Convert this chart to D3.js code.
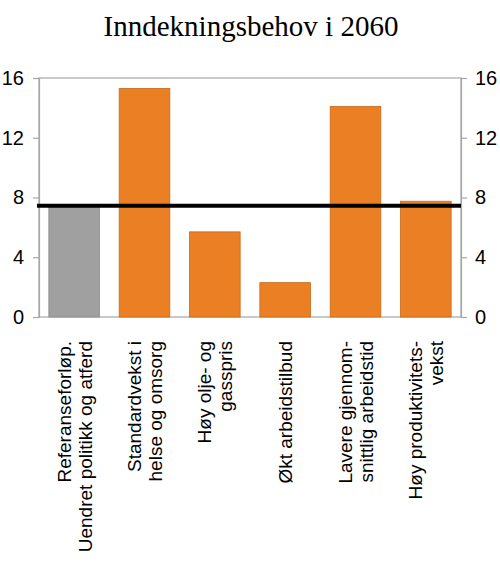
<!DOCTYPE html>
<html>
<head>
<meta charset="utf-8">
<script src="https://cdn.jsdelivr.net/npm/d3@7"></script>
<style>
  body { margin: 0; background: #fff; }
  svg text { font-family: "Liberation Sans", Arial, sans-serif; fill: #000; }
</style>
</head>
<body>
<div id="chart"></div>
<script>
// data
const categories = ['ref', 'helse', 'olje', 'arbeid', 'arbeidstid', 'produktivitet'];
const labelLines = [
    ['Referanseforløp.', 'Uendret politikk og atferd'],
    ['Standardvekst i', 'helse og omsorg'],
    ['Høy olje- og', 'gasspris'],
    ['Økt arbeidstilbud'],
    ['Lavere gjennom-', 'snittlig arbeidstid'],
    ['Høy produktivitets-', 'vekst']
];
const values = [7.35, 15.3, 5.7, 2.3, 14.1, 7.75];
const refLevel = 7.45;
const yTicks = [0, 4, 8, 12, 16];

const width = 500, height = 568;
const plotLeft = 39, plotRight = 461, plotTop = 78, plotBottom = 317;

const svg = d3.select('#chart').append('svg')
    .attr('width', width)
    .attr('height', height);

const x = d3.scaleBand()
    .domain(categories)
    .range([plotLeft, plotRight])
    .paddingInner(0.28)
    .paddingOuter(0.14);

const y = d3.scaleLinear()
    .domain([0, 16])
    .range([plotBottom, plotTop]);

// title
svg.append('text')
    .attr('x', 251)
    .attr('y', 36)
    .attr('text-anchor', 'middle')
    .style('font-family', '"Liberation Serif", "Times New Roman", serif')
    .style('font-size', '29px')
    .text('Inndekningsbehov i 2060');

// frame
svg.append('rect')
    .attr('x', plotLeft).attr('y', plotTop)
    .attr('width', plotRight - plotLeft).attr('height', plotBottom - plotTop)
    .attr('fill', 'none')
    .attr('stroke', '#a6a6a6')
    .attr('stroke-width', 1.2);

// axes
const yLeft = svg.append('g')
    .attr('transform', `translate(${plotLeft},0)`)
    .call(d3.axisLeft(y).tickValues(yTicks).tickSize(6).tickPadding(9));
const yRight = svg.append('g')
    .attr('transform', `translate(${plotRight},0)`)
    .call(d3.axisRight(y).tickValues(yTicks).tickSize(6).tickPadding(8));

[yLeft, yRight].forEach(g => {
    g.select('.domain').attr('stroke', '#a6a6a6').attr('stroke-width', 1.2);
    g.selectAll('.tick line').attr('stroke', '#a6a6a6').attr('stroke-width', 1.2);
    g.selectAll('.tick text')
        .style('font-family', '"Liberation Sans", Arial, sans-serif')
        .style('font-size', '20px')
        .attr('fill', '#000');
});

// bars
svg.append('g')
    .selectAll('rect')
    .data(values)
    .enter().append('rect')
    .attr('x', (d, i) => x(categories[i]))
    .attr('y', d => y(d))
    .attr('width', x.bandwidth())
    .attr('height', d => y(0) - y(d))
    .attr('fill', (d, i) => i === 0 ? '#a0a0a0' : '#eb7f23')
    .attr('stroke', (d, i) => i === 0 ? '#8a8a8a' : '#c96a1b')
    .attr('stroke-width', 0.8);

// reference line
svg.append('line')
    .attr('x1', plotLeft - 2)
    .attr('x2', plotRight)
    .attr('y1', y(refLevel))
    .attr('y2', y(refLevel))
    .attr('stroke', '#000')
    .attr('stroke-width', 4);

// category labels, rotated
const lineGap = 21;
const labels = svg.append('g');
labelLines.forEach((lines, i) => {
    const cx = x(categories[i]) + x.bandwidth() / 2;
    lines.forEach((t, j) => {
        const off = (j - (lines.length - 1) / 2) * lineGap + 7;
        labels.append('text')
            .attr('transform', `translate(${cx + off},341) rotate(-90)`)
            .attr('text-anchor', 'end')
            .style('font-size', '19px')
            .text(t);
    });
});
</script>
</body>
</html>
